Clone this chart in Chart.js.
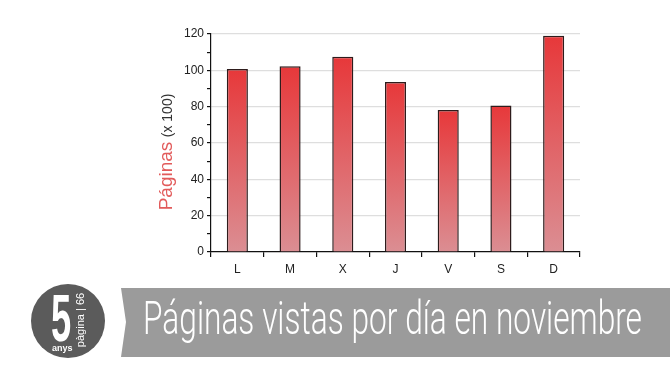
<!DOCTYPE html>
<html>
<head>
<meta charset="utf-8">
<script src="https://cdn.jsdelivr.net/npm/chart.js@4"></script>
<style>
  body { margin: 0; background: #fff; }
  #caja { position: relative; width: 670px; height: 377px; overflow: hidden; font-family: "Liberation Sans", Arial, sans-serif; }
  #grafico { position: absolute; left: 0; top: 0; }
  #tituloY { position: absolute; left: 166px; top: 152px; white-space: nowrap; transform: translate(-50%, -50%) rotate(-90deg); }
  #banda { position: absolute; left: 0; top: 0; }
  #titulo { position: absolute; left: 143px; top: 290px; font-family: Roboto, "Liberation Sans Narrow", sans-serif; font-weight: 300; font-size: 46px; line-height: 56px; color: #fff; white-space: nowrap; transform-origin: 0 0; }
  #logo { position: absolute; left: 31px; top: 284px; width: 74px; height: 74px; border-radius: 50%; background: #5b5b5b; }
  #cinco { position: absolute; left: 20px; top: 1px; font-family: "Liberation Sans Narrow", sans-serif; font-weight: bold; font-size: 66px; line-height: 66px; color: #fff; transform: scaleX(0.55); transform-origin: 0 0; }
  #anys { position: absolute; left: 21px; top: 60px; font-family: "Liberation Sans Narrow", sans-serif; font-weight: bold; font-size: 9px; line-height: 9px; color: #fff; }
  #pagina { position: absolute; left: 49px; top: 36px; font-size: 11px; line-height: 11px; color: #fff; white-space: nowrap; transform: translate(-50%, -50%) rotate(-90deg); }
</style>
</head>
<body>
<div id="caja">
  <canvas id="grafico" width="670" height="377"></canvas>
  <div id="tituloY"><span style="color:#e25b5b;font-size:19px">Páginas</span> <span style="color:#333;font-size:14px">(x 100)</span></div>
  <svg id="banda" width="670" height="377"><polygon points="121,288 670,288 670,357 121,357 126,322" fill="#9b9b9b"/></svg>
  <div id="titulo"><span id="textoTitulo">Páginas vistas por día en noviembre</span></div>
  <div id="logo">
    <div id="cinco">5</div>
    <div id="anys">anys</div>
    <div id="pagina">pàgina | 66</div>
  </div>
</div>
<script>
const dias = ["L", "M", "X", "J", "V", "S", "D"];
const paginas = [100.7, 102.2, 107.5, 93.6, 78.1, 80.7, 119];
const marcasY = [0, 20, 40, 60, 80, 100, 120];

// ancho del titulo de la banda
let titulo = document.getElementById("titulo");
let anchoTexto = document.getElementById("textoTitulo").offsetWidth;
titulo.style.transform = "scaleX(" + (499 / anchoTexto) + ")";

function degradado(context) {
  const chart = context.chart;
  if (!chart.chartArea || context.raw == undefined) return "#e63b3b";
  const y = chart.scales.y;
  let arriba = y.getPixelForValue(context.raw);
  let abajo = y.getPixelForValue(0);
  let g = chart.ctx.createLinearGradient(0, arriba, 0, abajo);
  g.addColorStop(0, "rgb(231, 56, 58)");
  g.addColorStop(1, "rgb(219, 142, 147)");
  return g;
}

const ctx = document.getElementById("grafico");
window.miGrafico = new Chart(ctx, {
  type: "bar",
  data: {
    labels: dias,
    datasets: [
      {
        label: "Páginas",
        data: paginas,
        backgroundColor: degradado,
        borderColor: "#2e1c1c",
        borderWidth: 1.5,
        borderSkipped: "bottom",
        categoryPercentage: 1,
        barPercentage: 0.4,
      },
    ],
  },
  options: {
    responsive: false,
    animation: false,
    layout: { padding: { left: 171, top: 34, right: 90, bottom: 95 } },
    plugins: { legend: { display: false }, tooltip: { enabled: false } },
    scales: {
      x: {
        afterFit: (scale) => { scale.height = 30; },
        grid: { offset: true, drawOnChartArea: false, tickLength: 5, tickColor: "#111", lineWidth: 1.2 },
        border: { color: "#111", width: 1.2 },
        ticks: { color: "#222", font: { size: 12, family: "Liberation Sans" }, padding: 5 },
      },
      y: {
        min: 0,
        max: 120,
        afterFit: (scale) => { scale.width = 40; },
        grid: {
          color: (c) => (marcasY.includes(c.tick.value) && c.tick.value > 0 ? "#dedede" : "rgba(0,0,0,0)"),
          tickColor: "#111",
          tickLength: 4,
          lineWidth: 1.2,
        },
        border: { color: "#111", width: 1.2 },
        ticks: {
          stepSize: 10,
          color: "#222",
          font: { size: 12, family: "Liberation Sans" },
          padding: 3,
          callback: (v) => (marcasY.includes(v) ? v : ""),
        },
      },
    },
  },
});
</script>
</body>
</html>
